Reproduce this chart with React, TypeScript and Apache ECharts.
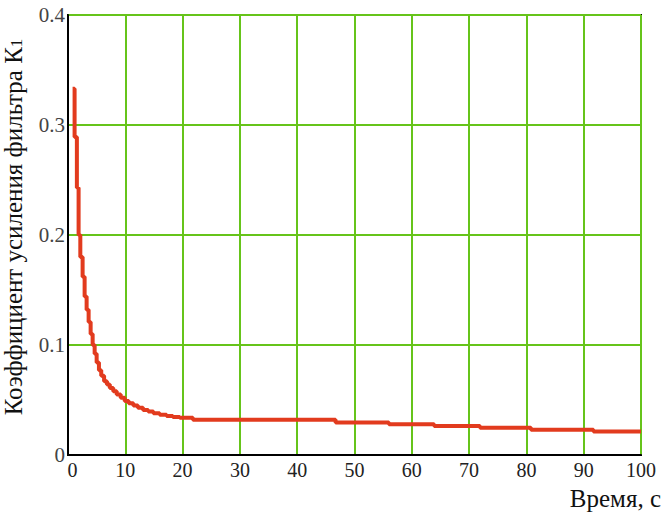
import React, { useEffect, useRef } from "react";
import * as echarts from "echarts";

// Time (s) at which the gain steps to the given value
const times: number[] = [
  0.8, 1.15, 1.55, 1.85, 2.15, 2.55, 2.9, 3.25, 3.6, 3.95, 4.3, 4.65, 5.0, 5.4, 5.8, 6.3, 6.8, 7.3, 7.9,
  8.5, 9.2, 9.9, 10.6, 11.4, 12.2, 13.1, 14.0, 14.9, 16.0, 17.2, 18.3, 19.5, 21.8, 46.7, 56.0, 63.9,
  71.9, 80.8, 91.7, 100,
];
const gain: number[] = [
  0.333, 0.289, 0.243, 0.2, 0.18, 0.162, 0.144, 0.132, 0.121, 0.11, 0.1, 0.092, 0.084, 0.077, 0.072,
  0.067, 0.064, 0.061, 0.058, 0.055, 0.052, 0.049, 0.047, 0.045, 0.043, 0.041, 0.0395, 0.038, 0.0365,
  0.0354, 0.0345, 0.0338, 0.032, 0.0296, 0.028, 0.0263, 0.0248, 0.023, 0.0214, 0.0214,
];
const xTicks = { min: 0, max: 100, interval: 10 };
const yTicks = { min: 0, max: 0.4, interval: 0.1 };
const xTitle = "Время, с";
const yTitleMain = "Коэффициент усиления фильтра К";
const yTitleSub = "1";

export default function App() {
  const ref = useRef<HTMLDivElement>(null);
  useEffect(() => {
    if (!ref.current) return;
    const chart = echarts.init(ref.current, undefined, { renderer: "svg" });
    const serif = "'Liberation Serif', 'Times New Roman', serif";
    chart.setOption({
      animation: false,
      backgroundColor: "#ffffff",
      grid: {
        left: 68,
        right: 27,
        top: 15,
        bottom: 61,
        show: true,
        borderColor: "#000",
        borderWidth: 2,
        backgroundColor: "transparent",
      },
      xAxis: {
        type: "value",
        min: xTicks.min,
        max: xTicks.max,
        interval: xTicks.interval,
        axisLine: { show: true, lineStyle: { color: "#000", width: 2 } },
        axisTick: { show: false },
        splitLine: { show: true, lineStyle: { color: "#66c41a", width: 2 } },
        axisLabel: {
          fontFamily: serif,
          fontSize: 20,
          color: "#222",
          margin: 5,
          formatter: (v: number) => (v === 0 ? "{z|0}" : String(v)),
          rich: {
            z: { fontFamily: serif, fontSize: 20, color: "#222", padding: [0, 0, 0, 9] },
          },
        },
      },
      yAxis: {
        type: "value",
        min: yTicks.min,
        max: yTicks.max,
        interval: yTicks.interval,
        axisLine: { show: true, lineStyle: { color: "#000", width: 2 } },
        axisTick: { show: false },
        splitLine: { show: true, lineStyle: { color: "#66c41a", width: 2 } },
        axisLabel: {
          fontFamily: serif,
          fontSize: 21,
          color: "#444",
          margin: 3,
          formatter: (v: number) => (v === 0 ? "0" : v.toFixed(1)),
        },
      },
      graphic: [
        {
          type: "text",
          x: 661,
          y: 498,
          style: {
            text: xTitle,
            fontFamily: serif,
            fontSize: 25,
            fill: "#111",
            textAlign: "right",
            textVerticalAlign: "middle",
          },
        },
        {
          type: "text",
          x: 13,
          y: 227,
          rotation: Math.PI / 2,
          style: {
            text: "{a|" + yTitleMain + "}{b|" + yTitleSub + "}",
            rich: {
              a: { fontFamily: serif, fontSize: 25, fill: "#111" },
              b: { fontFamily: serif, fontSize: 17, fill: "#111", padding: [7, 0, 0, 0] },
            },
            textAlign: "center",
            textVerticalAlign: "middle",
          },
        },
      ],
      series: [
        {
          type: "line",
          step: "end",
          showSymbol: false,
          data: times.map((t, i) => [t, gain[i]]),
          lineStyle: { color: "#e23b1e", width: 4 },
          itemStyle: { color: "#e23b1e" },
          z: 5,
        },
      ],
    });
    return () => chart.dispose();
  }, []);
  return (
    <div
      ref={ref}
      style={{ position: "absolute", left: 0, top: 0, width: 668, height: 516 }}
    />
  );
}
